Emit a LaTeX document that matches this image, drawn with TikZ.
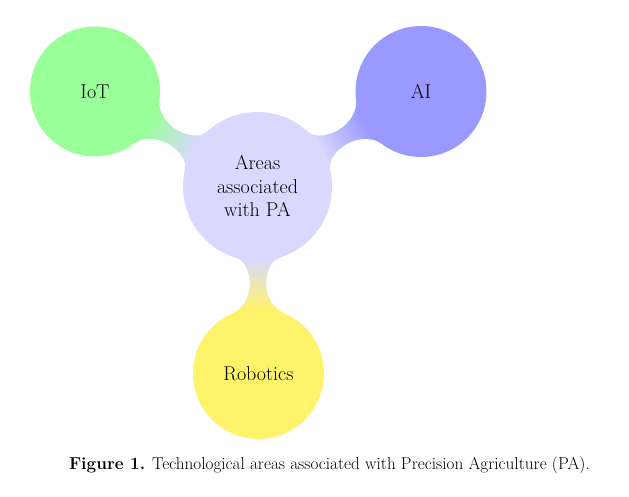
\documentclass[tikz,border=0pt]{standalone}
\usetikzlibrary{backgrounds}
\colorlet{cCenter}{blue!15}
\colorlet{cIoT}{green!40}
\colorlet{cAI}{blue!40}
\definecolor{cRob}{RGB}{255,243,107}
\newcommand\connbar[7]{% #1 parent node, #2 angle, #3 distance, #4 R1, #5 R2, #6 col1, #7 col2
\begin{scope}[shift={(#1.center)}, rotate=#2]
  \pgfmathsetmacro\cbxn{#4+(#3-#4-#5)/2}
  \pgfmathsetmacro\cbax{#4*cos(17)}\pgfmathsetmacro\cbay{#4*sin(17)}
  \pgfmathsetmacro\cbcax{\cbax+10*sin(17)}\pgfmathsetmacro\cbcay{\cbay-10*cos(17)}
  \pgfmathsetmacro\cbbx{#3-#5*cos(22)}\pgfmathsetmacro\cbby{#5*sin(22)}
  \pgfmathsetmacro\cbcbx{\cbbx-10*sin(22)}\pgfmathsetmacro\cbcby{\cbby-10*cos(22)}
  \clip (\cbax,\cbay) .. controls (\cbcax,\cbcay) and ({\cbxn-12},8) .. (\cbxn,8)
        .. controls ({\cbxn+12},8) and (\cbcbx,\cbcby) .. (\cbbx,\cbby)
        -- (\cbbx,-\cbby) .. controls (\cbcbx,-\cbcby) and ({\cbxn+12},-8) .. (\cbxn,-8)
        .. controls ({\cbxn-12},-8) and (\cbcax,-\cbcay) .. (\cbax,-\cbay) -- cycle;
  \fill[#6] (0,-40) rectangle (#3,40);
  \pgfmathsetmacro\cbxs{#4-2}\pgfmathsetmacro\cbxe{#3-#5+2}
  \foreach \i in {0,...,29} {
    \pgfmathsetmacro\cbp{100*(\i+0.5)/30}
    \fill[#7!\cbp!#6] ({\cbxs+(\cbxe-\cbxs)*\i/30},-40) rectangle ({\cbxs+(\cbxe-\cbxs)*(\i+1)/30+0.6},40);
  }
  \fill[#7] (\cbxe,-40) rectangle (#3,40);
\end{scope}}
\tikzset{
  concept/.style={circle, inner sep=0pt, align=center, text=black,
    font=\fontsize{20}{23.5}\selectfont},
}
\begin{document}
\begin{tikzpicture}[x=1pt,y=1pt]
\useasboundingbox (0,0) rectangle (629,497);
\node[concept, fill=cCenter, minimum size=149pt] (c) at (257.5,310.5) {Areas\\associated\\with PA};
\node[concept, fill=cIoT, minimum size=130pt] (iot) at (95,405.5) {IoT};
\node[concept, fill=cAI, minimum size=131pt] (ai) at (421,405.5) {AI};
\node[concept, fill=cRob, minimum size=131pt] (rob) at (258.5,123.5) {Robotics};
\begin{scope}[on background layer]
  \connbar{c}{149.7}{188.2}{74.5}{65}{cCenter}{cIoT}
  \connbar{c}{30.16}{189.1}{74.5}{65.5}{cCenter}{cAI}
  \connbar{c}{-89.7}{187}{74.5}{65.5}{cCenter}{cRob}
\end{scope}
\node[anchor=base east, inner sep=0pt, font=\fontsize{17.2}{20}\selectfont] (cap) at (590,27)
  {\textbf{Figure 1.} Technological areas associated with Precision Agriculture (PA).};
\end{tikzpicture}
\end{document}
